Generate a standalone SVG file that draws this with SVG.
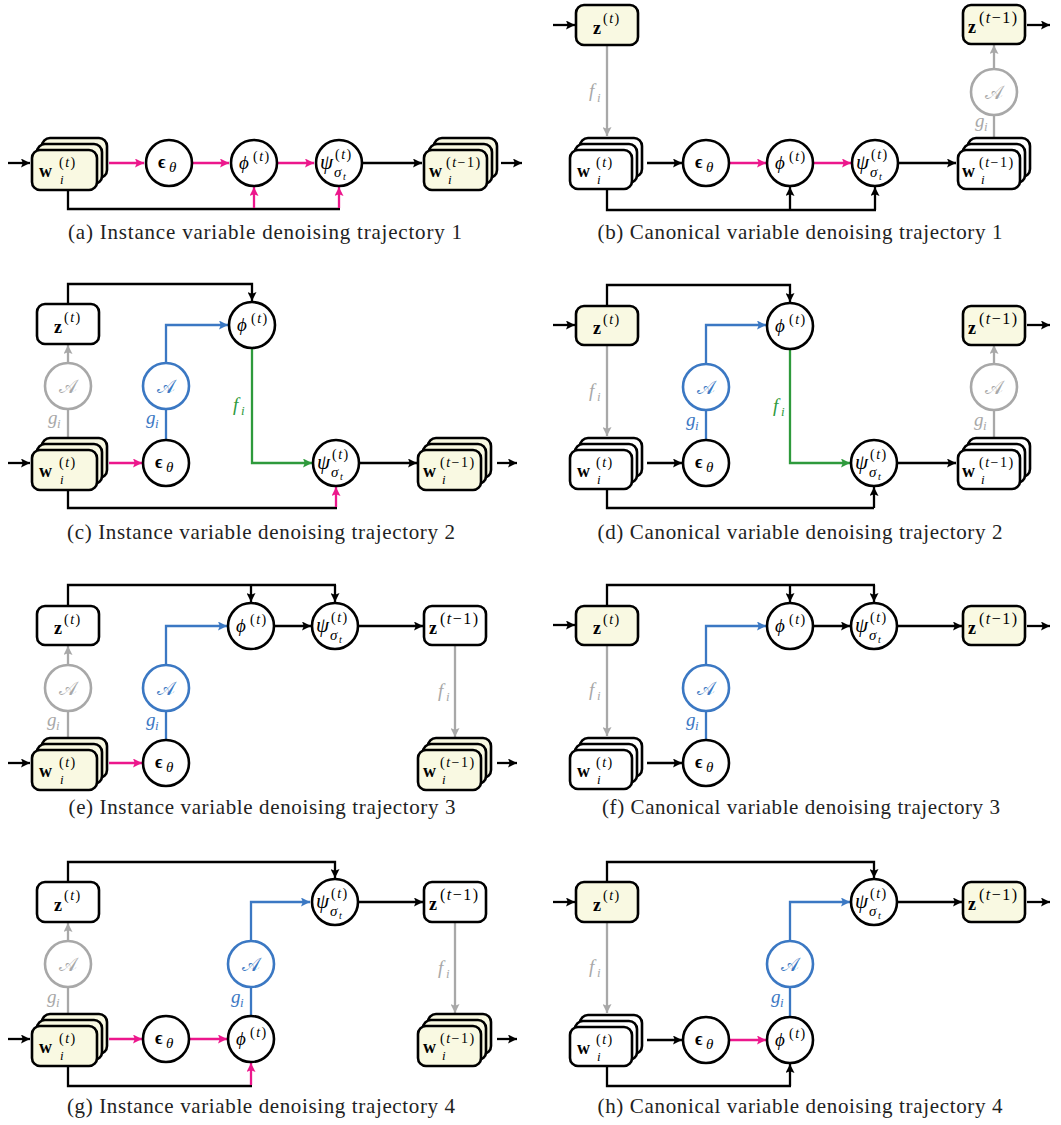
<svg xmlns="http://www.w3.org/2000/svg" width="1061" height="1125" viewBox="0 0 1061 1125">
<style>
.bw{fill:#fff;stroke:#000;stroke-width:2.6}
.by{fill:#f9f9e2;stroke:#000;stroke-width:2.6}
.c{fill:#fff;stroke:#000;stroke-width:2.6}
.cg{fill:#fff;stroke:#a8a8a8;stroke-width:2.6}
.cb{fill:#fff;stroke:#3b78c3;stroke-width:2.6}
.k,.ka{fill:none;stroke:#000;stroke-width:2.3}
.p,.pa{fill:none;stroke:#ec178c;stroke-width:2.3}
.g,.ga{fill:none;stroke:#a8a8a8;stroke-width:2.3}
.b,.ba{fill:none;stroke:#3b78c3;stroke-width:2.3}
.ea{fill:none;stroke:#2e9a3c;stroke-width:2.3}
.ka{marker-end:url(#mk)}
.pa{marker-end:url(#mp)}
.ga{marker-end:url(#mg)}
.ba{marker-end:url(#mb)}
.ea{marker-end:url(#me)}
text{font-family:"Liberation Serif","DejaVu Serif",serif;fill:#000}
.cap{font-size:21px;fill:#222;text-anchor:middle}
.bf{font-weight:bold;font-size:18px}
.it{font-style:italic;font-size:19px}
.ps{font-style:italic;font-size:21px}
.sm{font-size:14px;letter-spacing:1.5px}
.sz{font-size:16px;letter-spacing:1.5px}
.smi{font-size:13px;font-style:italic}
.sg{font-size:15px;font-style:italic}
.th{font-size:15px;font-style:italic}
.ti{font-size:10px;font-style:italic}
.gr{fill:#a8a8a8}
.bl{fill:#3b78c3}
.gn{fill:#2e9a3c}
.cal{font-family:"DejaVu Serif","Noto Sans",serif;font-size:19px;text-anchor:middle}
</style>
<defs>
<marker id="mk" viewBox="0 0 10 10" refX="10" refY="5" markerWidth="9" markerHeight="9" markerUnits="userSpaceOnUse" orient="auto"><path d="M0,0L10,5L0,10L2,5z" fill="#000"/></marker>
<marker id="mp" viewBox="0 0 10 10" refX="10" refY="5" markerWidth="9" markerHeight="9" markerUnits="userSpaceOnUse" orient="auto"><path d="M0,0L10,5L0,10L2,5z" fill="#ec178c"/></marker>
<marker id="mg" viewBox="0 0 10 10" refX="10" refY="5" markerWidth="9" markerHeight="9" markerUnits="userSpaceOnUse" orient="auto"><path d="M0,0L10,5L0,10L2,5z" fill="#a8a8a8"/></marker>
<marker id="mb" viewBox="0 0 10 10" refX="10" refY="5" markerWidth="9" markerHeight="9" markerUnits="userSpaceOnUse" orient="auto"><path d="M0,0L10,5L0,10L2,5z" fill="#3b78c3"/></marker>
<marker id="me" viewBox="0 0 10 10" refX="10" refY="5" markerWidth="9" markerHeight="9" markerUnits="userSpaceOnUse" orient="auto"><path d="M0,0L10,5L0,10L2,5z" fill="#2e9a3c"/></marker>
</defs>
<rect width="1061" height="1125" fill="#fff"/>

<g id="connectors">
<!-- (a) -->
<path class="ka" d="M8,163H30"/>
<path class="pa" d="M109,163H144"/>
<path class="pa" d="M193,163H229"/>
<path class="pa" d="M278,163H314"/>
<path class="ka" d="M363,163H422"/>
<path class="ka" d="M501,163H522"/>
<path class="k" d="M68,190V209H340"/>
<path class="pa" d="M254,208V187"/>
<path class="pa" d="M339,208V187"/>
<!-- (b) -->
<path class="ka" d="M553,25H575"/>
<path class="ga" d="M607,45V136"/>
<path class="ka" d="M647,163H682"/>
<path class="pa" d="M730,163H766"/>
<path class="pa" d="M814,163H851"/>
<path class="ka" d="M899,163H956"/>
<path class="g" d="M994,138V115"/>
<path class="ga" d="M994,69V45"/>
<path class="ka" d="M1027,25H1050"/>
<path class="k" d="M607,189V210H876"/>
<path class="ka" d="M790,210V187"/>
<path class="ka" d="M875,210V187"/>
<!-- (c) -->
<path class="ka" d="M68,304V284H252V301"/>
<path class="ga" d="M68,363V345"/>
<path class="g" d="M68,438V409"/>
<path class="ka" d="M8,463H30"/>
<path class="pa" d="M109,463H142"/>
<path class="b" d="M166,440V409"/>
<path class="ba" d="M166,363V325H228"/>
<path class="ea" d="M252,348V463H312"/>
<path class="ka" d="M360,463H417"/>
<path class="ka" d="M497,463H517"/>
<path class="k" d="M68,490V508H337"/>
<path class="pa" d="M336,507V487"/>
<!-- (d) -->
<path class="ka" d="M607,306V285H790V302"/>
<path class="ka" d="M553,325H575"/>
<path class="ga" d="M607,345V436"/>
<path class="b" d="M706,440V410"/>
<path class="ba" d="M706,364V325H766"/>
<path class="ka" d="M647,463H682"/>
<path class="ea" d="M790,349V463H850"/>
<path class="ka" d="M898,463H956"/>
<path class="g" d="M994,438V410"/>
<path class="ga" d="M994,364V345"/>
<path class="ka" d="M1027,325H1050"/>
<path class="k" d="M607,489V508H874"/>
<path class="ka" d="M874,508V487"/>
<!-- (e) -->
<path class="k" d="M68,606V585H336"/>
<path class="ka" d="M251,585V602"/>
<path class="ka" d="M335,585V602"/>
<path class="ka" d="M275,626H311"/>
<path class="ka" d="M359,626H423"/>
<path class="ga" d="M455,645V737"/>
<path class="ka" d="M497,763H517"/>
<path class="ga" d="M68,665V646"/>
<path class="g" d="M68,738V711"/>
<path class="b" d="M166,740V711"/>
<path class="ba" d="M166,665V626H227"/>
<path class="ka" d="M8,763H30"/>
<path class="pa" d="M109,763H142"/>
<!-- (f) -->
<path class="k" d="M607,606V585H875"/>
<path class="ka" d="M790,585V602"/>
<path class="ka" d="M874,585V602"/>
<path class="ka" d="M553,625H575"/>
<path class="ka" d="M814,626H850"/>
<path class="ka" d="M898,626H962"/>
<path class="ka" d="M1027,626H1050"/>
<path class="ga" d="M607,645V736"/>
<path class="b" d="M706,740V711"/>
<path class="ba" d="M706,665V626H766"/>
<path class="ka" d="M647,763H682"/>
<!-- (g) -->
<path class="ka" d="M68,882V862H335V878"/>
<path class="ka" d="M358,902H423"/>
<path class="ga" d="M455,922V1013"/>
<path class="ka" d="M497,1039H517"/>
<path class="ga" d="M68,941V923"/>
<path class="g" d="M68,1014V987"/>
<path class="b" d="M251,1016V987"/>
<path class="ba" d="M251,941V902H310"/>
<path class="ka" d="M8,1039H30"/>
<path class="pa" d="M109,1039H142"/>
<path class="pa" d="M190,1039H227"/>
<path class="k" d="M68,1066V1086H252"/>
<path class="pa" d="M251,1085V1063"/>
<!-- (h) -->
<path class="ka" d="M607,882V862H874V878"/>
<path class="ka" d="M553,902H575"/>
<path class="ka" d="M898,902H962"/>
<path class="ka" d="M1027,902H1050"/>
<path class="ga" d="M607,922V1013"/>
<path class="b" d="M790,1017V987"/>
<path class="ba" d="M790,941V902H850"/>
<path class="ka" d="M647,1040H682"/>
<path class="pa" d="M730,1040H766"/>
<path class="k" d="M607,1066V1086H791"/>
<path class="ka" d="M790,1086V1064"/>
</g>

<g id="edge-labels">
<!-- (b) -->
<text class="it gr" x="589" y="97">f</text><text class="smi gr" x="597" y="102">i</text>
<text class="it gr" x="975" y="127">g</text><text class="smi gr" x="984" y="131">i</text>
<!-- (c) -->
<text class="it gr" x="48" y="424">g</text><text class="smi gr" x="57" y="428">i</text>
<text class="it bl" x="146" y="424">g</text><text class="smi bl" x="155" y="428">i</text>
<text class="it gn" x="233" y="411">f</text><text class="smi gn" x="241" y="415">i</text>
<!-- (d) -->
<text class="it gr" x="589" y="397">f</text><text class="smi gr" x="597" y="401">i</text>
<text class="it bl" x="686" y="426">g</text><text class="smi bl" x="695" y="430">i</text>
<text class="it gn" x="773" y="412">f</text><text class="smi gn" x="781" y="416">i</text>
<text class="it gr" x="974" y="426">g</text><text class="smi gr" x="983" y="430">i</text>
<!-- (e) -->
<text class="it gr" x="438" y="697">f</text><text class="smi gr" x="446" y="701">i</text>
<text class="it gr" x="47" y="726">g</text><text class="smi gr" x="56" y="730">i</text>
<text class="it bl" x="146" y="726">g</text><text class="smi bl" x="155" y="730">i</text>
<!-- (f) -->
<text class="it gr" x="589" y="696">f</text><text class="smi gr" x="597" y="700">i</text>
<text class="it bl" x="686" y="726">g</text><text class="smi bl" x="695" y="730">i</text>
<!-- (g) -->
<text class="it gr" x="47" y="1003">g</text><text class="smi gr" x="56" y="1007">i</text>
<text class="it bl" x="231" y="1003">g</text><text class="smi bl" x="240" y="1007">i</text>
<text class="it gr" x="438" y="974">f</text><text class="smi gr" x="446" y="978">i</text>
<!-- (h) -->
<text class="it gr" x="589" y="973">f</text><text class="smi gr" x="597" y="977">i</text>
<text class="it bl" x="771" y="1003">g</text><text class="smi bl" x="780" y="1007">i</text>
</g>

<!-- ===== (a) ===== -->
<g id="a-wt">
<rect class="by" x="42" y="138" width="65" height="40" rx="8"/>
<rect class="by" x="37" y="144" width="65" height="40" rx="8"/>
<rect class="by" x="32" y="150" width="65" height="40" rx="8"/>
<text class="bf" x="39" y="177">w</text><text class="sm" x="59" y="167">(<tspan font-style="italic">t</tspan>)</text><text class="smi" x="60" y="184">i</text>
</g>
<g id="a-eps"><circle class="c" cx="169" cy="163" r="23"/><text class="bf" x="158" y="168">ϵ</text><text class="th" x="169" y="172">θ</text></g>
<g id="a-phi"><circle class="c" cx="254" cy="163" r="23"/><text class="it" x="239" y="169">ϕ</text><text class="sm" x="253" y="161">(<tspan font-style="italic">t</tspan>)</text></g>
<g id="a-psi"><circle class="c" cx="339" cy="163" r="23"/><text class="ps" x="320" y="169">ψ</text><text class="sm" x="335" y="159">(<tspan font-style="italic">t</tspan>)</text><text class="sg" x="334" y="177">σ</text><text class="ti" x="343" y="180">t</text></g>
<g id="a-wt1">
<rect class="by" x="434" y="138" width="63" height="40" rx="8"/>
<rect class="by" x="429" y="144" width="63" height="40" rx="8"/>
<rect class="by" x="424" y="150" width="63" height="40" rx="8"/>
<text class="bf" x="429" y="177">w</text><text class="sm" x="446" y="167">(<tspan font-style="italic">t</tspan>−1)</text><text class="smi" x="448" y="184">i</text>
</g>

<!-- ===== (b) ===== -->
<g id="b-zt"><rect class="by" x="576" y="5" width="62" height="40" rx="8"/><text class="bf" x="593" y="34">z</text><text class="sm" x="603" y="23">(<tspan font-style="italic">t</tspan>)</text></g>
<g id="b-wt">
<rect class="bw" x="580" y="138" width="62" height="39" rx="8"/>
<rect class="bw" x="575" y="144" width="62" height="39" rx="8"/>
<rect class="bw" x="570" y="150" width="62" height="39" rx="8"/>
<text class="bf" x="577" y="177">w</text><text class="sm" x="596" y="167">(<tspan font-style="italic">t</tspan>)</text><text class="smi" x="597" y="184">i</text>
</g>
<g id="b-eps"><circle class="c" cx="706" cy="163" r="23"/><text class="bf" x="695" y="168">ϵ</text><text class="th" x="706" y="172">θ</text></g>
<g id="b-phi"><circle class="c" cx="790" cy="163" r="23"/><text class="it" x="775" y="169">ϕ</text><text class="sm" x="789" y="161">(<tspan font-style="italic">t</tspan>)</text></g>
<g id="b-psi"><circle class="c" cx="875" cy="163" r="23"/><text class="ps" x="856" y="169">ψ</text><text class="sm" x="871" y="159">(<tspan font-style="italic">t</tspan>)</text><text class="sg" x="870" y="177">σ</text><text class="ti" x="879" y="180">t</text></g>
<g id="b-wt1">
<rect class="bw" x="968" y="138" width="62" height="39" rx="8"/>
<rect class="bw" x="963" y="144" width="62" height="39" rx="8"/>
<rect class="bw" x="958" y="150" width="62" height="39" rx="8"/>
<text class="bf" x="962" y="177">w</text><text class="sm" x="979" y="167">(<tspan font-style="italic">t</tspan>−1)</text><text class="smi" x="981" y="184">i</text>
</g>
<g id="b-A"><circle class="cg" cx="994" cy="92" r="23"/><text class="cal gr" x="994" y="99">𝒜</text></g>
<g id="b-zt1"><rect class="by" x="963" y="5" width="62" height="39" rx="8"/><text class="bf" x="968" y="33">z</text><text class="sz" x="979" y="23">(<tspan font-style="italic">t</tspan>−1)</text></g>

<!-- ===== (c) ===== -->
<g id="c-zt"><rect class="bw" x="37" y="304" width="62" height="40" rx="8"/><text class="bf" x="54" y="333">z</text><text class="sm" x="64" y="322">(<tspan font-style="italic">t</tspan>)</text></g>
<g id="c-A1"><circle class="cg" cx="68" cy="386" r="23"/><text class="cal gr" x="68" y="393">𝒜</text></g>
<g id="c-wt">
<rect class="by" x="42" y="438" width="65" height="40" rx="8"/>
<rect class="by" x="37" y="444" width="65" height="40" rx="8"/>
<rect class="by" x="32" y="450" width="65" height="40" rx="8"/>
<text class="bf" x="39" y="477">w</text><text class="sm" x="59" y="467">(<tspan font-style="italic">t</tspan>)</text><text class="smi" x="60" y="484">i</text>
</g>
<g id="c-eps"><circle class="c" cx="166" cy="463" r="23"/><text class="bf" x="155" y="468">ϵ</text><text class="th" x="166" y="472">θ</text></g>
<g id="c-A2"><circle class="cb" cx="166" cy="386" r="23"/><text class="cal bl" x="166" y="393">𝒜</text></g>
<g id="c-phi"><circle class="c" cx="252" cy="325" r="23"/><text class="it" x="237" y="331">ϕ</text><text class="sm" x="251" y="323">(<tspan font-style="italic">t</tspan>)</text></g>
<g id="c-psi"><circle class="c" cx="336" cy="463" r="23"/><text class="ps" x="317" y="469">ψ</text><text class="sm" x="332" y="459">(<tspan font-style="italic">t</tspan>)</text><text class="sg" x="331" y="477">σ</text><text class="ti" x="340" y="480">t</text></g>
<g id="c-wt1">
<rect class="by" x="428" y="438" width="63" height="40" rx="8"/>
<rect class="by" x="423" y="444" width="63" height="40" rx="8"/>
<rect class="by" x="418" y="450" width="63" height="40" rx="8"/>
<text class="bf" x="423" y="477">w</text><text class="sm" x="440" y="467">(<tspan font-style="italic">t</tspan>−1)</text><text class="smi" x="442" y="484">i</text>
</g>

<!-- ===== (d) ===== -->
<g id="d-zt"><rect class="by" x="576" y="306" width="62" height="39" rx="8"/><text class="bf" x="593" y="334">z</text><text class="sm" x="603" y="324">(<tspan font-style="italic">t</tspan>)</text></g>
<g id="d-phi"><circle class="c" cx="790" cy="326" r="23"/><text class="it" x="775" y="332">ϕ</text><text class="sm" x="789" y="324">(<tspan font-style="italic">t</tspan>)</text></g>
<g id="d-A1"><circle class="cb" cx="706" cy="387" r="23"/><text class="cal bl" x="706" y="394">𝒜</text></g>
<g id="d-wt">
<rect class="bw" x="580" y="438" width="62" height="39" rx="8"/>
<rect class="bw" x="575" y="444" width="62" height="39" rx="8"/>
<rect class="bw" x="570" y="450" width="62" height="39" rx="8"/>
<text class="bf" x="577" y="477">w</text><text class="sm" x="596" y="467">(<tspan font-style="italic">t</tspan>)</text><text class="smi" x="597" y="484">i</text>
</g>
<g id="d-eps"><circle class="c" cx="706" cy="463" r="23"/><text class="bf" x="695" y="468">ϵ</text><text class="th" x="706" y="472">θ</text></g>
<g id="d-psi"><circle class="c" cx="874" cy="463" r="23"/><text class="ps" x="855" y="469">ψ</text><text class="sm" x="870" y="459">(<tspan font-style="italic">t</tspan>)</text><text class="sg" x="869" y="477">σ</text><text class="ti" x="878" y="480">t</text></g>
<g id="d-wt1">
<rect class="bw" x="968" y="438" width="62" height="39" rx="8"/>
<rect class="bw" x="963" y="444" width="62" height="39" rx="8"/>
<rect class="bw" x="958" y="450" width="62" height="39" rx="8"/>
<text class="bf" x="962" y="477">w</text><text class="sm" x="979" y="467">(<tspan font-style="italic">t</tspan>−1)</text><text class="smi" x="981" y="484">i</text>
</g>
<g id="d-A2"><circle class="cg" cx="994" cy="387" r="23"/><text class="cal gr" x="994" y="394">𝒜</text></g>
<g id="d-zt1"><rect class="by" x="963" y="306" width="62" height="39" rx="8"/><text class="bf" x="968" y="334">z</text><text class="sz" x="979" y="324">(<tspan font-style="italic">t</tspan>−1)</text></g>

<!-- ===== (e) ===== -->
<g id="e-zt"><rect class="bw" x="37" y="606" width="62" height="39" rx="8"/><text class="bf" x="54" y="634">z</text><text class="sm" x="64" y="624">(<tspan font-style="italic">t</tspan>)</text></g>
<g id="e-phi"><circle class="c" cx="251" cy="626" r="23"/><text class="it" x="236" y="632">ϕ</text><text class="sm" x="250" y="624">(<tspan font-style="italic">t</tspan>)</text></g>
<g id="e-psi"><circle class="c" cx="335" cy="626" r="23"/><text class="ps" x="316" y="632">ψ</text><text class="sm" x="331" y="622">(<tspan font-style="italic">t</tspan>)</text><text class="sg" x="330" y="640">σ</text><text class="ti" x="339" y="643">t</text></g>
<g id="e-zt1"><rect class="bw" x="424" y="606" width="62" height="39" rx="8"/><text class="bf" x="429" y="634">z</text><text class="sz" x="440" y="624">(<tspan font-style="italic">t</tspan>−1)</text></g>
<g id="e-A1"><circle class="cg" cx="68" cy="688" r="23"/><text class="cal gr" x="68" y="695">𝒜</text></g>
<g id="e-A2"><circle class="cb" cx="166" cy="688" r="23"/><text class="cal bl" x="166" y="695">𝒜</text></g>
<g id="e-wt">
<rect class="by" x="42" y="738" width="65" height="40" rx="8"/>
<rect class="by" x="37" y="744" width="65" height="40" rx="8"/>
<rect class="by" x="32" y="750" width="65" height="40" rx="8"/>
<text class="bf" x="39" y="777">w</text><text class="sm" x="59" y="767">(<tspan font-style="italic">t</tspan>)</text><text class="smi" x="60" y="784">i</text>
</g>
<g id="e-eps"><circle class="c" cx="166" cy="763" r="23"/><text class="bf" x="155" y="768">ϵ</text><text class="th" x="166" y="772">θ</text></g>
<g id="e-wt1">
<rect class="by" x="428" y="738" width="63" height="40" rx="8"/>
<rect class="by" x="423" y="744" width="63" height="40" rx="8"/>
<rect class="by" x="418" y="750" width="63" height="40" rx="8"/>
<text class="bf" x="423" y="777">w</text><text class="sm" x="440" y="767">(<tspan font-style="italic">t</tspan>−1)</text><text class="smi" x="442" y="784">i</text>
</g>

<!-- ===== (f) ===== -->
<g id="f-zt"><rect class="by" x="576" y="606" width="62" height="39" rx="8"/><text class="bf" x="593" y="634">z</text><text class="sm" x="603" y="624">(<tspan font-style="italic">t</tspan>)</text></g>
<g id="f-phi"><circle class="c" cx="790" cy="626" r="23"/><text class="it" x="775" y="632">ϕ</text><text class="sm" x="789" y="624">(<tspan font-style="italic">t</tspan>)</text></g>
<g id="f-psi"><circle class="c" cx="874" cy="626" r="23"/><text class="ps" x="855" y="632">ψ</text><text class="sm" x="870" y="622">(<tspan font-style="italic">t</tspan>)</text><text class="sg" x="869" y="640">σ</text><text class="ti" x="878" y="643">t</text></g>
<g id="f-zt1"><rect class="by" x="963" y="606" width="62" height="39" rx="8"/><text class="bf" x="968" y="634">z</text><text class="sz" x="979" y="624">(<tspan font-style="italic">t</tspan>−1)</text></g>
<g id="f-A1"><circle class="cb" cx="706" cy="688" r="23"/><text class="cal bl" x="706" y="695">𝒜</text></g>
<g id="f-wt">
<rect class="bw" x="580" y="738" width="62" height="39" rx="8"/>
<rect class="bw" x="575" y="744" width="62" height="39" rx="8"/>
<rect class="bw" x="570" y="750" width="62" height="39" rx="8"/>
<text class="bf" x="577" y="777">w</text><text class="sm" x="596" y="767">(<tspan font-style="italic">t</tspan>)</text><text class="smi" x="597" y="784">i</text>
</g>
<g id="f-eps"><circle class="c" cx="706" cy="763" r="23"/><text class="bf" x="695" y="768">ϵ</text><text class="th" x="706" y="772">θ</text></g>

<!-- ===== (g) ===== -->
<g id="g-zt"><rect class="bw" x="37" y="882" width="62" height="40" rx="8"/><text class="bf" x="54" y="911">z</text><text class="sm" x="64" y="900">(<tspan font-style="italic">t</tspan>)</text></g>
<g id="g-psi"><circle class="c" cx="335" cy="902" r="23"/><text class="ps" x="316" y="908">ψ</text><text class="sm" x="331" y="898">(<tspan font-style="italic">t</tspan>)</text><text class="sg" x="330" y="916">σ</text><text class="ti" x="339" y="919">t</text></g>
<g id="g-zt1"><rect class="bw" x="424" y="882" width="62" height="40" rx="8"/><text class="bf" x="429" y="910">z</text><text class="sz" x="440" y="900">(<tspan font-style="italic">t</tspan>−1)</text></g>
<g id="g-A1"><circle class="cg" cx="68" cy="964" r="23"/><text class="cal gr" x="68" y="971">𝒜</text></g>
<g id="g-A2"><circle class="cb" cx="251" cy="964" r="23"/><text class="cal bl" x="251" y="971">𝒜</text></g>
<g id="g-wt">
<rect class="by" x="42" y="1014" width="65" height="40" rx="8"/>
<rect class="by" x="37" y="1020" width="65" height="40" rx="8"/>
<rect class="by" x="32" y="1026" width="65" height="40" rx="8"/>
<text class="bf" x="39" y="1053">w</text><text class="sm" x="59" y="1043">(<tspan font-style="italic">t</tspan>)</text><text class="smi" x="60" y="1060">i</text>
</g>
<g id="g-eps"><circle class="c" cx="166" cy="1039" r="23"/><text class="bf" x="155" y="1044">ϵ</text><text class="th" x="166" y="1048">θ</text></g>
<g id="g-phi"><circle class="c" cx="251" cy="1039" r="23"/><text class="it" x="236" y="1045">ϕ</text><text class="sm" x="250" y="1037">(<tspan font-style="italic">t</tspan>)</text></g>
<g id="g-wt1">
<rect class="by" x="428" y="1014" width="63" height="40" rx="8"/>
<rect class="by" x="423" y="1020" width="63" height="40" rx="8"/>
<rect class="by" x="418" y="1026" width="63" height="40" rx="8"/>
<text class="bf" x="423" y="1053">w</text><text class="sm" x="440" y="1043">(<tspan font-style="italic">t</tspan>−1)</text><text class="smi" x="442" y="1060">i</text>
</g>

<!-- ===== (h) ===== -->
<g id="h-zt"><rect class="by" x="576" y="882" width="62" height="40" rx="8"/><text class="bf" x="593" y="911">z</text><text class="sm" x="603" y="900">(<tspan font-style="italic">t</tspan>)</text></g>
<g id="h-psi"><circle class="c" cx="874" cy="902" r="23"/><text class="ps" x="855" y="908">ψ</text><text class="sm" x="870" y="898">(<tspan font-style="italic">t</tspan>)</text><text class="sg" x="869" y="916">σ</text><text class="ti" x="878" y="919">t</text></g>
<g id="h-zt1"><rect class="by" x="963" y="882" width="62" height="40" rx="8"/><text class="bf" x="968" y="910">z</text><text class="sz" x="979" y="900">(<tspan font-style="italic">t</tspan>−1)</text></g>
<g id="h-A1"><circle class="cb" cx="790" cy="964" r="23"/><text class="cal bl" x="790" y="971">𝒜</text></g>
<g id="h-wt">
<rect class="bw" x="580" y="1015" width="62" height="39" rx="8"/>
<rect class="bw" x="575" y="1021" width="62" height="39" rx="8"/>
<rect class="bw" x="570" y="1027" width="62" height="39" rx="8"/>
<text class="bf" x="577" y="1054">w</text><text class="sm" x="596" y="1044">(<tspan font-style="italic">t</tspan>)</text><text class="smi" x="597" y="1061">i</text>
</g>
<g id="h-eps"><circle class="c" cx="706" cy="1040" r="23"/><text class="bf" x="695" y="1045">ϵ</text><text class="th" x="706" y="1049">θ</text></g>
<g id="h-phi"><circle class="c" cx="790" cy="1040" r="23"/><text class="it" x="775" y="1046">ϕ</text><text class="sm" x="789" y="1038">(<tspan font-style="italic">t</tspan>)</text></g>

<g id="captions">
<text class="cap" x="265" y="239" textLength="394" lengthAdjust="spacing">(a) Instance variable denoising trajectory 1</text>
<text class="cap" x="800" y="239" textLength="405" lengthAdjust="spacing">(b) Canonical variable denoising trajectory 1</text>
<text class="cap" x="261" y="539" textLength="388" lengthAdjust="spacing">(c) Instance variable denoising trajectory 2</text>
<text class="cap" x="800" y="539" textLength="405" lengthAdjust="spacing">(d) Canonical variable denoising trajectory 2</text>
<text class="cap" x="262" y="814" textLength="387" lengthAdjust="spacing">(e) Instance variable denoising trajectory 3</text>
<text class="cap" x="801" y="814" textLength="398" lengthAdjust="spacing">(f) Canonical variable denoising trajectory 3</text>
<text class="cap" x="261" y="1113" textLength="388" lengthAdjust="spacing">(g) Instance variable denoising trajectory 4</text>
<text class="cap" x="800" y="1113" textLength="405" lengthAdjust="spacing">(h) Canonical variable denoising trajectory 4</text>
</g>
</svg>
